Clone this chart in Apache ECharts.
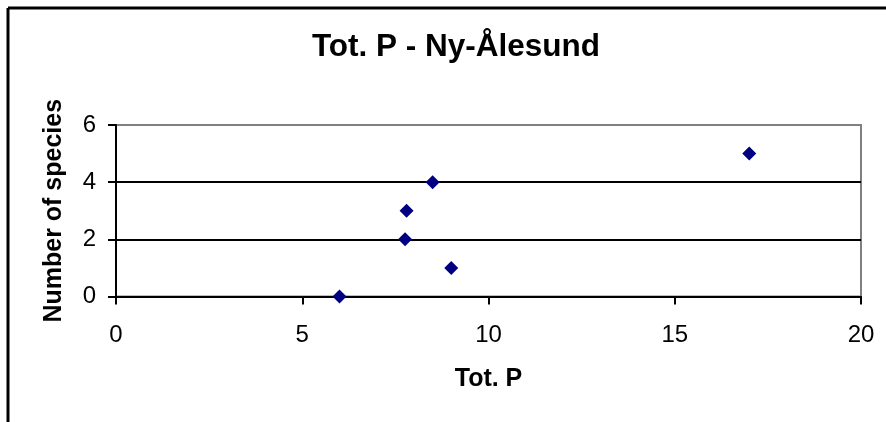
<!DOCTYPE html>
<html>
<head>
<meta charset="utf-8">
<script src="https://cdn.jsdelivr.net/npm/echarts@6/dist/echarts.min.js"></script>
<style>html,body{margin:0;padding:0;background:#fff}#c{width:886px;height:422px}</style>
</head>
<body>
<div id="c"></div>
<script>
const titleText = 'Tot. P - Ny-Ålesund';
const xName = 'Tot. P';
const yName = 'Number of species';
const xValues = [6, 7.76, 7.8, 8.5, 9, 17];
const yValues = [0, 2, 3, 4, 1, 5];
const xTicks = [0, 5, 10, 15, 20];
const yTicks = [0, 2, 4, 6];

const chart = echarts.init(document.getElementById('c'), null, {renderer: 'canvas'});
const font = 'Liberation Sans, Arial, sans-serif';
chart.setOption({
  animation: false,
  backgroundColor: '#fff',
  title: {
    text: titleText, left: 451, textAlign: 'center', top: 26,
    textStyle: {fontFamily: font, fontSize: 31.5, fontWeight: 'bold', color: '#000'}
  },
  graphic: [
    {type: 'line', shape: {x1: 8, y1: 8, x2: 886, y2: 8}, style: {stroke: '#000', lineWidth: 3}},
    {type: 'line', shape: {x1: 8, y1: 8, x2: 8, y2: 422}, style: {stroke: '#000', lineWidth: 3}}
  ],
  grid: {left: 116, right: 25, top: 125, bottom: 125.5, show: true, borderColor: '#808080', borderWidth: 2, backgroundColor: '#fff'},
  xAxis: {
    type: 'value', min: xTicks[0], max: xTicks[xTicks.length - 1], interval: 5,
    name: xName, nameLocation: 'middle', nameGap: 70,
    nameTextStyle: {fontFamily: font, fontSize: 25, fontWeight: 'bold', color: '#000'},
    axisLine: {show: true, onZero: false, lineStyle: {color: '#000', width: 2}},
    axisTick: {show: true, length: 8, lineStyle: {color: '#000', width: 2}},
    axisLabel: {fontFamily: font, fontSize: 24, color: '#000', margin: 27},
    splitLine: {show: false}
  },
  yAxis: {
    type: 'value', min: yTicks[0], max: yTicks[yTicks.length - 1], interval: 2,
    name: yName, nameLocation: 'middle', nameGap: 49,
    nameTextStyle: {fontFamily: font, fontSize: 25, fontWeight: 'bold', color: '#000'},
    axisLine: {show: true, onZero: false, lineStyle: {color: '#000', width: 2}},
    axisTick: {show: true, length: 8, lineStyle: {color: '#000', width: 2}},
    axisLabel: {fontFamily: font, fontSize: 24, color: '#000', margin: 20},
    splitLine: {show: true, lineStyle: {color: ['#000', '#000', '#000', '#808080'], width: 2}}
  },
  series: [{
    type: 'scatter',
    data: xValues.map((x, i) => [x, yValues[i]]),
    symbol: 'diamond', symbolSize: 14,
    itemStyle: {color: '#000080', opacity: 1}
  }]
});
</script>
</body>
</html>
